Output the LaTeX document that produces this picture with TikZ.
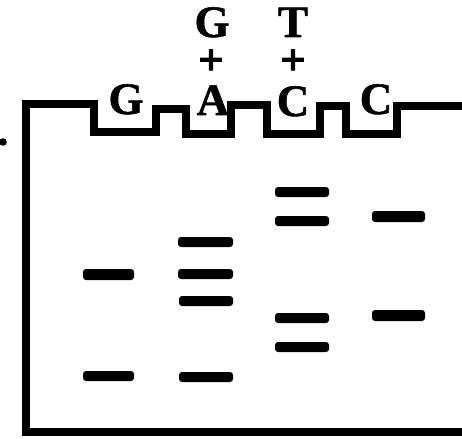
\documentclass[tikz,border=0pt]{standalone}
\usepackage{fontspec}
\setmainfont{Liberation Serif}
\newfontfamily\lblfont[FakeBold=1.2]{Liberation Serif Bold}
\newfontfamily\plusfont[FakeBold=2.5]{Liberation Serif Bold}
\begin{document}
\begin{tikzpicture}[x=1pt,y=-1pt,
  gel/.style={line width=8pt, line join=miter},
  band/.style={fill=black, rounded corners=3pt},
  lbl/.style={font=\lblfont\fontsize{45}{45}\selectfont, inner sep=0pt, anchor=base},
  plus/.style={font=\plusfont\fontsize{44}{44}\selectfont, inner sep=0pt, anchor=center}]
\useasboundingbox (0,0) rectangle (462,438);
% gel outline
\draw[gel] (462,432) -- (26,432) -- (26,104) -- (94,104) -- (94,132) -- (156,132)
  -- (156,109) -- (186,109) -- (186,134) -- (231,134) -- (231,105) -- (267,105)
  -- (267,134) -- (320,134) -- (320,106) -- (346,106) -- (346,134) -- (397,134)
  -- (397,106) -- (462,106);
% dot
\fill (3,142) circle (3.8);
% labels
\node[lbl] (lG) at (126,114) {G};
\node[lbl] (lA) at (213,115) {A};
\node[lbl] (lC1) at (293,116) {C};
\node[lbl] (lC2) at (376,114) {C};
\node[lbl] (tG) at (212,37) {G};
\node[lbl] (tT) at (293,37) {T};
\node[plus] (p1) at (211,62) {+};
\node[plus] (p2) at (293,62) {+};
% lane 1 (G)
\fill[band] (83,269) rectangle (134,280);
\fill[band] (83,371) rectangle (134,381);
% lane 2 (G+A)
\fill[band] (178,237) rectangle (233,247);
\fill[band] (178,269) rectangle (233,279);
\fill[band] (179,296) rectangle (233,306);
\fill[band] (179,372) rectangle (233,382);
% lane 3 (T+C)
\fill[band] (275,187) rectangle (329,197);
\fill[band] (275,216) rectangle (329,226);
\fill[band] (275,313) rectangle (329,323);
\fill[band] (275,342) rectangle (329,352);
% lane 4 (C)
\fill[band] (372,211) rectangle (425,222);
\fill[band] (372,310) rectangle (425,321);
\end{tikzpicture}
\end{document}
